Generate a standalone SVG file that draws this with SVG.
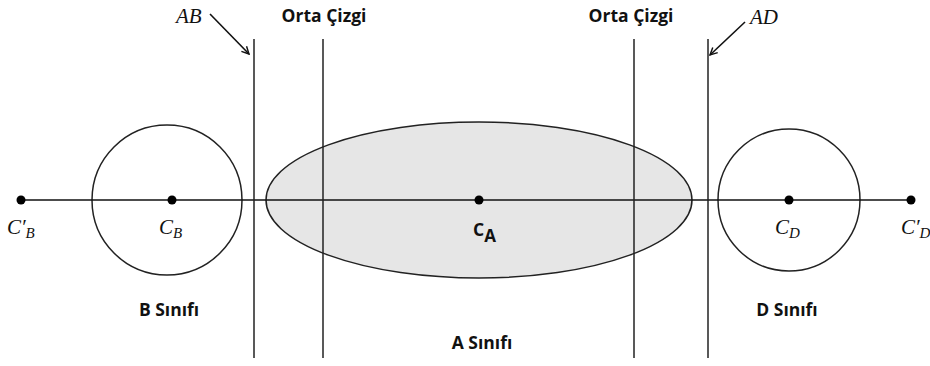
<svg xmlns="http://www.w3.org/2000/svg" width="930" height="366" viewBox="0 0 930 366">
<style>
.ln{stroke:#111;stroke-width:1.6;fill:none}
.v{stroke:#222;stroke-width:1.5}
.m{font-family:"Liberation Serif",serif;font-style:italic;font-size:21px;fill:#111}
.s{font-size:15px}
.b{font-family:"Open Sans","Liberation Sans",sans-serif;font-weight:bold;font-size:17.5px;fill:#111}
.dot{fill:#000}
</style>
<defs>
<marker id="ah" viewBox="0 0 10 10" refX="9" refY="5" markerWidth="9" markerHeight="9" orient="auto" markerUnits="userSpaceOnUse">
<path d="M1,1 L9,5 L1,9" fill="none" stroke="#111" stroke-width="1.6"/>
</marker>
</defs>
<rect width="930" height="366" fill="#fff"/>
<g id="classA"><ellipse cx="479" cy="200" rx="213" ry="78" fill="#e6e6e6" stroke="#222" stroke-width="1.5"/></g>
<g id="classB"><circle cx="167" cy="200" r="75" fill="none" stroke="#222" stroke-width="1.5"/></g>
<g id="classD"><circle cx="789" cy="200" r="71" fill="none" stroke="#222" stroke-width="1.5"/></g>
<g id="connectors">
<line class="ln" x1="21" y1="200" x2="911" y2="200"/>
<line class="v" x1="254" y1="39" x2="254" y2="358"/>
<line class="v" x1="323" y1="39" x2="323" y2="358"/>
<line class="v" x1="634" y1="39" x2="634" y2="358"/>
<line class="v" x1="708" y1="39" x2="708" y2="358"/>
<line class="ln" x1="210" y1="14" x2="249" y2="54" marker-end="url(#ah)"/>
<line class="ln" x1="745" y1="22" x2="710" y2="55" marker-end="url(#ah)"/>
</g>
<g id="points">
<circle class="dot" cx="21" cy="200" r="4.5"/>
<circle class="dot" cx="172" cy="200" r="4.5"/>
<circle class="dot" cx="479" cy="200" r="4.5"/>
<circle class="dot" cx="789" cy="200" r="4.5"/>
<circle class="dot" cx="911" cy="200" r="4.5"/>
</g>
<g id="labels">
<text class="m" x="7" y="234">C′<tspan class="s" dy="4">B</tspan></text>
<text class="m" x="159" y="234">C<tspan class="s" dy="4">B</tspan></text>
<text class="b" x="473" y="236" font-size="21">C<tspan font-size="17" dy="6">A</tspan></text>
<text class="m" x="775" y="234">C<tspan class="s" dy="4">D</tspan></text>
<text class="m" x="901" y="234">C′<tspan class="s" dy="4">D</tspan></text>
<text class="m" x="176" y="23">AB</text>
<text class="m" x="750" y="24">AD</text>
<text class="b" x="324" y="22" text-anchor="middle">Orta Çizgi</text>
<text class="b" x="631" y="22" text-anchor="middle">Orta Çizgi</text>
<text class="b" x="169" y="316" text-anchor="middle">B Sınıfı</text>
<text class="b" x="482" y="349" text-anchor="middle">A Sınıfı</text>
<text class="b" x="787" y="316" text-anchor="middle">D Sınıfı</text>
</g>
</svg>
